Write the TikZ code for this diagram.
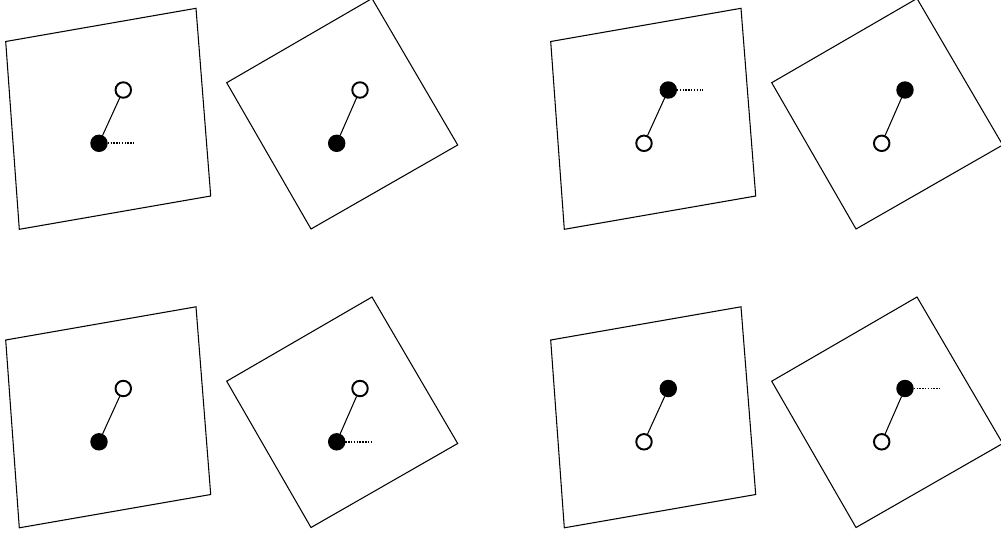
\documentclass[tikz,border=0pt]{standalone}
\usetikzlibrary{calc}

\begin{document}
\begin{tikzpicture}[x=0.02cm, y=-0.02cm,
        frame/.style={draw=black, line width=0.6pt},
        rod/.style={draw=black, line width=0.6pt},
        openball/.style={circle, draw=black, fill=white, line width=1.1pt,
                         minimum size=0.31cm, inner sep=0pt},
        fullball/.style={circle, draw=black, fill=black, line width=1.1pt,
                         minimum size=0.31cm, inner sep=0pt},
        refline/.style={draw=black, line width=1pt, dash pattern=on 0.8pt off 0.8pt}
    ]
        \useasboundingbox (0,0) rectangle (1001,535);
        \foreach \dx/\dy/\styU/\styL/\dotat in {
            0/0/openball/fullball/Ll,
            545/0/fullball/openball/Lu,
            0/298.5/openball/fullball/Rl,
            545/298.5/fullball/openball/Ru}
        {
            \begin{scope}[shift={(\dx,\dy)}]
                % sheared frame and rotated frame
                \draw[frame] (5.7,41.5) -- (196,8.3) -- (210.7,196) -- (19.3,229.3) -- cycle;
                \draw[frame] (226.7,82.7) -- (372,-1.5) -- (457.7,145) -- (311,229) -- cycle;
                \node[\styU] (Lu) at (123.3,90)    {};
                \node[\styL] (Ll) at (99,143.3)    {};
                \node[\styU] (Ru) at (360,90)      {};
                \node[\styL] (Rl) at (336.7,143.3) {};
                \draw[rod] (Lu) -- (Ll);
                \draw[rod] (Ru) -- (Rl);
                \coordinate (tip) at ($(\dotat)+(35,0)$);
                \draw[refline] (\dotat.east) -- (tip);
            \end{scope}
        }
    \end{tikzpicture}
\end{document}
